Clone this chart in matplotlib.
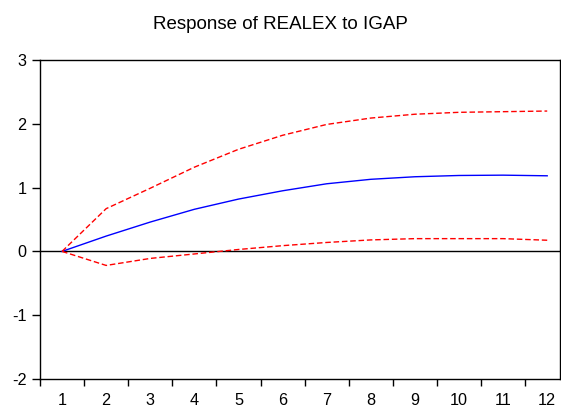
import numpy as np
import matplotlib.pyplot as plt

plt.rcParams['font.family'] = ['Liberation Sans', 'DejaVu Sans']
plt.rcParams['axes.unicode_minus'] = False

# impulse response of REALEX to IGAP, with +/- 2 s.e. bands
periods = list(range(1, 13))
response = [0.0, 0.24, 0.46, 0.66, 0.82, 0.95, 1.06, 1.13, 1.17, 1.19, 1.195, 1.185]
upper = [0.0, 0.67, 0.99, 1.32, 1.60, 1.82, 1.99, 2.09, 2.15, 2.18, 2.19, 2.20]
lower = [0.0, -0.22, -0.11, -0.04, 0.03, 0.09, 0.14, 0.18, 0.20, 0.20, 0.20, 0.175]

fig = plt.figure(figsize=(5.61, 4.11), dpi=100)
ax = fig.add_axes([40/561, 1 - 379/411, 520/561, 319/411])

ax.axhline(0, color='black', lw=1.0)
ax.plot(periods, response, color='blue', lw=1.0)
ax.plot(periods, upper, color='red', lw=1.0, dashes=(4, 2))
ax.plot(periods, lower, color='red', lw=1.0, dashes=(4, 2))

ax.set_xlim(0.5, 12.29)
ax.set_ylim(-2, 3)
ax.set_yticks([-2, -1, 0, 1, 2, 3])
ax.set_xticks(periods)
ax.set_xticks(np.arange(0.5, 12.5, 1), minor=True)
ax.tick_params(axis='x', which='major', length=0, labelsize=11.7, pad=10)
ax.tick_params(axis='x', which='minor', length=5, width=1, direction='out')
ax.tick_params(axis='y', length=5.8, width=1, direction='out', labelsize=11.7, pad=4)
for s in ax.spines.values():
    s.set_linewidth(1.0)

fig.text(0.5, 1 - 29/411, 'Response of REALEX to IGAP', ha='center', va='baseline', fontsize=13.5)

fig.savefig('out.png', dpi=100)
